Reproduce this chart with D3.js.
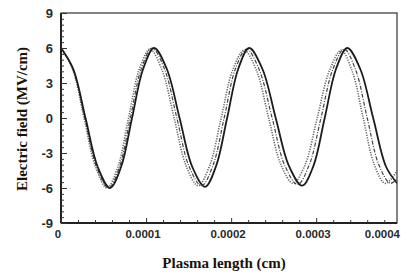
<!DOCTYPE html>
<html>
<head>
<meta charset="utf-8">
<script src="https://cdn.jsdelivr.net/npm/d3@7/dist/d3.min.js"></script>
<style>
  html, body { margin: 0; padding: 0; background: #fff; }
  svg { display: block; }
</style>
</head>
<body>
<svg id="chart" width="409" height="276"></svg>
<script>
// ---- data (x in units of 1e-4 cm, E in MV/cm) ----
const solidX = [0, 0.144, 0.288, 0.432, 0.576, 0.706, 0.835, 0.965, 1.094, 1.244, 1.394, 1.544, 1.694, 1.824, 1.953, 2.083, 2.212, 2.368, 2.524, 2.679, 2.835, 2.968, 3.100, 3.233, 3.365, 3.518, 3.670, 3.823, 3.953];
const solidY = [6, 4.2, 0, -4.2, -6, -4.2, 0, 4.2, 6, 4.2, 0, -4.2, -5.9, -4.1, 0, 4.2, 6, 4.2, 0, -4.1, -5.8, -4.1, 0, 4.2, 6, 4.2, 0, -4.2, -5.6];

const dashX = [0, 0.140, 0.280, 0.419, 0.559, 0.687, 0.815, 0.943, 1.071, 1.217, 1.362, 1.508, 1.653, 1.785, 1.918, 2.050, 2.182, 2.332, 2.482, 2.632, 2.782, 2.919, 3.056, 3.192, 3.329, 3.465, 3.600, 3.736, 3.871, 3.953];
const dashY = [6, 4.2, 0, -4.2, -6, -4.2, 0, 4.2, 6, 4.2, 0, -4.2, -5.8, -4.1, 0, 4.2, 5.9, 4.1, 0, -4.1, -5.7, -4.0, 0, 4.1, 5.9, 4.1, 0, -4.0, -5.6, -5.2];

const dotX = [0, 0.135, 0.271, 0.406, 0.541, 0.668, 0.794, 0.921, 1.047, 1.188, 1.330, 1.471, 1.612, 1.747, 1.883, 2.018, 2.153, 2.297, 2.441, 2.585, 2.729, 2.870, 3.012, 3.153, 3.294, 3.424, 3.553, 3.683, 3.812, 3.953];
const dotY = [6, 4.2, 0, -4.2, -6, -4.2, 0, 4.2, 5.9, 4.1, 0, -4.1, -5.8, -4.1, 0, 4.1, 5.8, 4.1, 0, -4.0, -5.6, -4.0, 0, 4.0, 5.8, 4.0, 0, -4.0, -5.6, -4.5];

const xTickVals = [0, 0.0001, 0.0002, 0.0003, 0.0004];
const xTickLabels = ["0", "0.0001", "0.0002", "0.0003", "0.0004"];
const yTickVals = [-9, -6, -3, 0, 3, 6, 9];
const xTitle = "Plasma length (cm)";
const yTitle = "Electric field (MV/cm)";

// ---- layout ----
const L = 61, R = 397, T = 13, B = 223;
const xMax = 0.000395;

const svg = d3.select("#chart");
const x = d3.scaleLinear().domain([0, xMax]).range([L, R]);
const y = d3.scaleLinear().domain([-9, 9]).range([B, T]);

const toPts = (xs, ys) => xs.map((v, i) => [v * 1e-4, ys[i]]);

// curves
const line = d3.line().x(d => x(d[0])).y(d => y(d[1])).curve(d3.curveCatmullRom.alpha(0.5));
svg.append("clipPath").attr("id", "clip")
  .append("rect").attr("x", L).attr("y", T).attr("width", R - L).attr("height", B - T);
const g = svg.append("g").attr("clip-path", "url(#clip)");

g.append("path").datum(toPts(dotX, dotY)).attr("d", line)
  .attr("fill", "none").attr("stroke", "#666").attr("stroke-width", 1.6)
  .attr("stroke-dasharray", "1.2,1.3");
g.append("path").datum(toPts(dashX, dashY)).attr("d", line)
  .attr("fill", "none").attr("stroke", "#444").attr("stroke-width", 1.2)
  .attr("stroke-dasharray", "4,1.5,1,1.5");
g.append("path").datum(toPts(solidX, solidY)).attr("d", line)
  .attr("fill", "none").attr("stroke", "#1c1c1c").attr("stroke-width", 1.8);

// frame
svg.append("rect").attr("x", L).attr("y", T).attr("width", R - L).attr("height", B - T)
  .attr("fill", "none").attr("stroke", "#333").attr("stroke-width", 1.2);
svg.append("line").attr("x1", L).attr("x2", L).attr("y1", T).attr("y2", B)
  .attr("stroke", "#222").attr("stroke-width", 2);
svg.append("line").attr("x1", L).attr("x2", R).attr("y1", B).attr("y2", B)
  .attr("stroke", "#222").attr("stroke-width", 2);

// y axis (ticks inward)
const yAxis = d3.axisRight(y).tickValues(d3.range(-9, 9.01, 0.5)).tickSize(3).tickFormat("");
const ya = svg.append("g").attr("transform", `translate(${L},0)`).call(yAxis);
ya.select(".domain").remove();
ya.selectAll(".tick line").attr("stroke", "#333").attr("stroke-width", 1)
  .attr("x2", d => (Math.abs(d % 3) < 1e-9 ? 6 : 3));
svg.append("g").selectAll("text").data(yTickVals).join("text")
  .attr("x", L - 8).attr("y", d => y(d) + 5)
  .attr("text-anchor", "end")
  .attr("font-family", "Liberation Sans, Arial, sans-serif")
  .attr("font-weight", "bold").attr("font-size", 13).attr("fill", "#2a2a2a")
  .text(d => d);

// x axis (ticks inward)
const minorX = d3.range(0, 20).map(i => i * 0.00002).filter(v => v <= xMax);
const xAxis = d3.axisTop(x).tickValues(minorX).tickSize(3).tickFormat("");
const xa = svg.append("g").attr("transform", `translate(0,${B})`).call(xAxis);
xa.select(".domain").remove();
xa.selectAll(".tick line").attr("stroke", "#333").attr("stroke-width", 1)
  .attr("y2", (d, i) => (i % 5 === 0 ? -5 : -3));
svg.append("g").selectAll("text").data(xTickVals).join("text")
  .attr("x", (d, i) => i === xTickVals.length - 1 ? R + 3 : x(d) - 3)
  .attr("y", B + 15)
  .attr("text-anchor", (d, i) => i === xTickVals.length - 1 ? "end" : "middle")
  .attr("font-family", "Liberation Sans, Arial, sans-serif")
  .attr("font-weight", "bold").attr("font-size", 11.5).attr("fill", "#2a2a2a")
  .text((d, i) => xTickLabels[i]);

// titles
svg.append("text").attr("x", (L + R) / 2 - 5).attr("y", 268)
  .attr("text-anchor", "middle")
  .attr("font-family", "Liberation Serif, Times New Roman, serif")
  .attr("font-weight", "bold").attr("font-size", 15).attr("fill", "#1a1206")
  .text(xTitle);
svg.append("text").attr("transform", `translate(27,${(T + B) / 2 + 1}) rotate(-90)`)
  .attr("text-anchor", "middle")
  .attr("font-family", "Liberation Serif, Times New Roman, serif")
  .attr("font-weight", "bold").attr("font-size", 15).attr("fill", "#1a1206")
  .text(yTitle);
</script>
</body>
</html>
